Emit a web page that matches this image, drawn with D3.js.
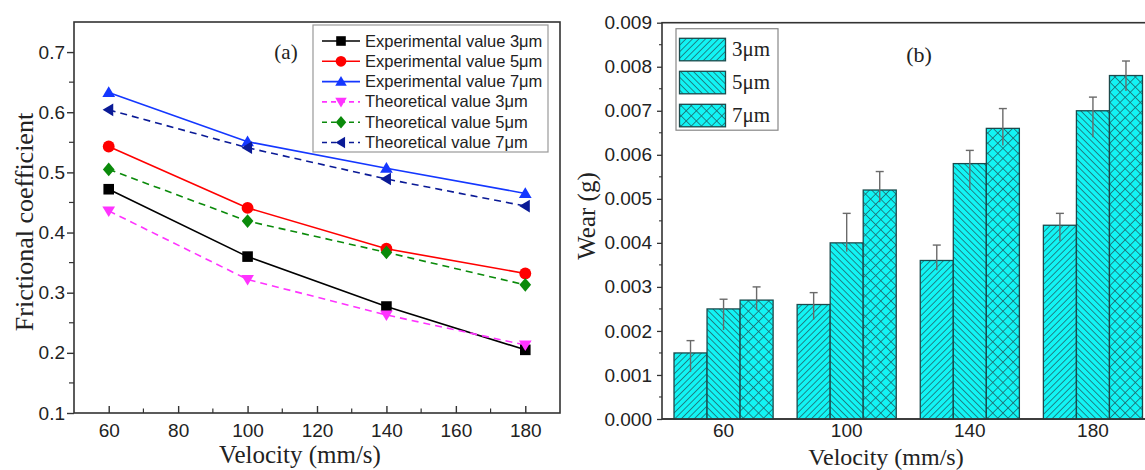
<!DOCTYPE html>
<html>
<head>
<meta charset="utf-8">
<script src="https://cdn.jsdelivr.net/npm/d3@7"></script>
<style>
  html, body { margin: 0; padding: 0; background: #fff; }
  svg { display: block; }
  .tick-label { font-family: "Liberation Sans", Arial, sans-serif; font-size: 19px; fill: #222; }
</style>
</head>
<body>
<svg id="chart" width="1145" height="470"></svg>
<script>
// ---- (a) frictional coefficient vs velocity ----
const velocities = [60, 100, 140, 180];
const expFric3 = [0.472, 0.360, 0.277, 0.205];
const expFric5 = [0.543, 0.441, 0.373, 0.332];
const expFric7 = [0.633, 0.551, 0.507, 0.465];
const theoFric3 = [0.436, 0.322, 0.263, 0.213];
const theoFric5 = [0.505, 0.419, 0.367, 0.313];
const theoFric7 = [0.604, 0.541, 0.489, 0.444];
const fricTicks = [0.1, 0.2, 0.3, 0.4, 0.5, 0.6, 0.7];
const velTicks = [60, 80, 100, 120, 140, 160, 180];

// ---- (b) wear vs velocity ----
const wearCats = ["60", "100", "140", "180"];
const wear3 = [0.0015, 0.0026, 0.0036, 0.0044];
const wear5 = [0.0025, 0.0040, 0.0058, 0.0070];
const wear7 = [0.0027, 0.0052, 0.0066, 0.0078];
const wearErrUp3 = [0.00028, 0.00027, 0.00035, 0.00027];
const wearErrDown3 = [0.00043, 0.00034, 0.00022, 0.00036];
const wearErrUp5 = [0.00022, 0.00067, 0.00030, 0.00031];
const wearErrDown5 = [0.00048, 0.00020, 0.00060, 0.00060];
const wearErrUp7 = [0.00030, 0.00042, 0.00045, 0.00033];
const wearErrDown7 = [0.00023, 0.00028, 0.00039, 0.00035];
const wearTicks = [0, 0.001, 0.002, 0.003, 0.004, 0.005, 0.006, 0.007, 0.008, 0.009];
const sizeLabels = ["3μm", "5μm", "7μm"];

const svg = d3.select("#chart");
const axisColor = "#333";
const serifFamily = "Liberation Serif, Times New Roman, serif";

// =========================== Panel (a) ===========================
const A = { left: 74, right: 560, top: 22, bottom: 413 };
const xA = d3.scaleLinear().domain([50, 190]).range([A.left, A.right]);
const yA = d3.scaleLinear().domain([0.1, 0.75]).range([A.bottom, A.top]);
const gA = svg.append("g");

// frame
gA.append("rect").attr("x", A.left).attr("y", A.top)
  .attr("width", A.right - A.left).attr("height", A.bottom - A.top)
  .attr("fill", "none").attr("stroke", axisColor).attr("stroke-width", 1.6);

// y axis (ticks outward)
const yAxisA = d3.axisLeft(yA).tickValues(fricTicks).tickFormat(d3.format(".1f"))
  .tickSize(7).tickPadding(2);
const yAxG = gA.append("g").attr("transform", `translate(${A.left},0)`).call(yAxisA);
yAxG.select(".domain").remove();
yAxG.selectAll("line").attr("stroke", axisColor).attr("stroke-width", 1.4);
yAxG.selectAll("text").attr("class", "tick-label").attr("font-size", null).attr("font-family", null);
const yMinorA = d3.range(0.15, 0.75, 0.1);
gA.append("g").selectAll("line").data(yMinorA).join("line")
  .attr("x1", A.left - 5).attr("x2", A.left)
  .attr("y1", d => yA(d)).attr("y2", d => yA(d))
  .attr("stroke", axisColor).attr("stroke-width", 1.2);

// x axis (ticks inward)
const xAxisA = d3.axisBottom(xA).tickValues(velTicks).tickSize(-7).tickPadding(11);
const xAxG = gA.append("g").attr("transform", `translate(0,${A.bottom})`).call(xAxisA);
xAxG.select(".domain").remove();
xAxG.selectAll("line").attr("stroke", axisColor).attr("stroke-width", 1.4);
xAxG.selectAll("text").attr("class", "tick-label").attr("font-size", null).attr("font-family", null);
const xMinorA = d3.range(70, 190, 20);
gA.append("g").selectAll("line").data(xMinorA).join("line")
  .attr("x1", d => xA(d)).attr("x2", d => xA(d))
  .attr("y1", A.bottom - 4.5).attr("y2", A.bottom)
  .attr("stroke", axisColor).attr("stroke-width", 1.2);

// axis titles
gA.append("text").attr("font-family", serifFamily).attr("fill", "#222")
  .attr("x", 300).attr("y", 463).attr("text-anchor", "middle")
  .attr("font-size", 25).text("Velocity (mm/s)");
gA.append("text").attr("font-family", serifFamily).attr("fill", "#222")
  .attr("transform", `translate(33,${222}) rotate(-90)`)
  .attr("text-anchor", "middle").attr("font-size", 26).text("Frictional coefficient");
gA.append("text").attr("font-family", serifFamily).attr("fill", "#222")
  .attr("x", 286).attr("y", 59).attr("text-anchor", "middle")
  .attr("font-size", 21).text("(a)");

const fricSeries = [
  { name: "Experimental value 3μm", values: expFric3, color: "#000000", dash: null, shape: "square" },
  { name: "Experimental value 5μm", values: expFric5, color: "#ff0000", dash: null, shape: "circle" },
  { name: "Experimental value 7μm", values: expFric7, color: "#1437ff", dash: null, shape: "triUp" },
  { name: "Theoretical value 3μm", values: theoFric3, color: "#ff33ff", dash: "7,5", shape: "triDown" },
  { name: "Theoretical value 5μm", values: theoFric5, color: "#0a8a0a", dash: "7,5", shape: "diamond" },
  { name: "Theoretical value 7μm", values: theoFric7, color: "#0a1a96", dash: "7,5", shape: "triLeft" }
];

function markerPath(shape, s) {
  switch (shape) {
    case "square": return `M${-s},${-s}H${s}V${s}H${-s}Z`;
    case "circle": return d3.symbol(d3.symbolCircle, Math.PI * s * s * 1.25)();
    case "triUp": return `M0,${-s * 1.15}L${s * 1.2},${s * 0.85}L${-s * 1.2},${s * 0.85}Z`;
    case "triDown": return `M0,${s * 1.15}L${s * 1.2},${-s * 0.85}L${-s * 1.2},${-s * 0.85}Z`;
    case "triLeft": return `M${-s * 1.15},0L${s * 0.85},${-s * 1.2}L${s * 0.85},${s * 1.2}Z`;
    case "diamond": return `M0,${-s * 1.3}L${s * 1.1},0L0,${s * 1.3}L${-s * 1.1},0Z`;
  }
}

const line = d3.line().x((d, i) => xA(velocities[i])).y(d => yA(d));
fricSeries.forEach(s => {
  gA.append("path").datum(s.values).attr("d", line)
    .attr("fill", "none").attr("stroke", s.color).attr("stroke-width", 1.6)
    .attr("stroke-dasharray", s.dash);
});
fricSeries.forEach(s => {
  gA.append("g").selectAll("path").data(s.values).join("path")
    .attr("transform", (d, i) => `translate(${xA(velocities[i])},${yA(d)})`)
    .attr("d", markerPath(s.shape, 5.3))
    .attr("fill", s.color);
});

// legend (a)
const legA = gA.append("g").attr("transform", "translate(313,25)");
legA.append("rect").attr("width", 235).attr("height", 127)
  .attr("fill", "#fff").attr("stroke", "#999").attr("stroke-width", 1.2);
fricSeries.forEach((s, i) => {
  const cy = 16 + i * 20.3;
  const row = legA.append("g").attr("transform", `translate(0,${cy})`);
  row.append("line").attr("x1", 9).attr("x2", 47).attr("y1", 0).attr("y2", 0)
    .attr("stroke", s.color).attr("stroke-width", 1.6)
    .attr("stroke-dasharray", s.dash ? "5,4" : null);
  row.append("path").attr("transform", "translate(28,0)")
    .attr("d", markerPath(s.shape, 4.8)).attr("fill", s.color);
  row.append("text").attr("x", 52).attr("y", 5.5)
    .attr("font-family", "Liberation Sans, Arial, sans-serif").attr("font-size", 16.5)
    .attr("fill", "#222").text(s.name);
});

// =========================== Panel (b) ===========================
const B = { left: 662, right: 1154.5, top: 22.7, bottom: 419 };
const xB = d3.scaleBand().domain(wearCats).range([B.left, B.right])
  .paddingInner(0.195).paddingOuter(0.0975);
const xSub = d3.scaleBand().domain(sizeLabels).range([0, xB.bandwidth()]);
const yB = d3.scaleLinear().domain([0, 0.009]).range([B.bottom, B.top]);
const gB = svg.append("g");

// hatch patterns
const defs = svg.append("defs");
const hatchStroke = "#1d6b70";
const barFill = "#12f4f4";
function hatch(id, angles, gap) {
  const p = defs.append("pattern").attr("id", id).attr("patternUnits", "userSpaceOnUse")
    .attr("width", gap).attr("height", gap)
    .attr("patternTransform", `rotate(${angles[0]})`);
  p.append("rect").attr("width", gap).attr("height", gap).attr("fill", barFill);
  p.append("line").attr("x1", 0).attr("x2", 0).attr("y1", 0).attr("y2", gap)
    .attr("stroke", hatchStroke).attr("stroke-width", 1.6);
  if (angles.length > 1) {
    p.append("line").attr("x1", 0).attr("x2", gap).attr("y1", 0).attr("y2", 0)
      .attr("stroke", hatchStroke).attr("stroke-width", 1.6);
  }
}
hatch("h3", [45], 4.6);
hatch("h5", [-45], 4.6);
hatch("h7", [45, -45], 7.2);
const patternIds = ["h3", "h5", "h7"];

// frame (right side lies beyond the page edge)
gB.append("rect").attr("x", B.left).attr("y", B.top)
  .attr("width", B.right - B.left).attr("height", B.bottom - B.top)
  .attr("fill", "none").attr("stroke", axisColor).attr("stroke-width", 1.6);

// y axis
const yAxisB = d3.axisLeft(yB).tickValues(wearTicks).tickFormat(d3.format(".3f"))
  .tickSize(5).tickPadding(5);
const yBxG = gB.append("g").attr("transform", `translate(${B.left},0)`).call(yAxisB);
yBxG.select(".domain").remove();
yBxG.selectAll("line").attr("stroke", axisColor).attr("stroke-width", 1.3);
yBxG.selectAll("text").attr("class", "tick-label").attr("font-size", null).attr("font-family", null);
const yMinorB = d3.range(0.0005, 0.009, 0.001);
gB.append("g").selectAll("line").data(yMinorB).join("line")
  .attr("x1", B.left - 3).attr("x2", B.left)
  .attr("y1", d => yB(d)).attr("y2", d => yB(d))
  .attr("stroke", axisColor).attr("stroke-width", 1.1);

// x axis labels
const xAxisB = d3.axisBottom(xB).tickSize(0).tickPadding(5);
const xBxG = gB.append("g").attr("transform", `translate(0,${B.bottom})`).call(xAxisB);
xBxG.select(".domain").remove();
xBxG.selectAll("text").attr("class", "tick-label").attr("font-size", null).attr("font-family", null);

// bars
const wearSeries = [
  { values: wear3, up: wearErrUp3, down: wearErrDown3 },
  { values: wear5, up: wearErrUp5, down: wearErrDown5 },
  { values: wear7, up: wearErrUp7, down: wearErrDown7 }
];
wearSeries.forEach((s, k) => {
  const grp = gB.append("g");
  grp.selectAll("rect").data(s.values).join("rect")
    .attr("x", (d, i) => xB(wearCats[i]) + xSub(sizeLabels[k]))
    .attr("y", d => yB(d))
    .attr("width", xSub.bandwidth())
    .attr("height", d => B.bottom - yB(d))
    .attr("fill", `url(#${patternIds[k]})`)
    .attr("stroke", "#1b4a4c").attr("stroke-width", 1.3);
});
// error bars
wearSeries.forEach((s, k) => {
  const grp = gB.append("g").attr("stroke", "#6a6a6a").attr("stroke-width", 1.4);
  s.values.forEach((v, i) => {
    const cx = xB(wearCats[i]) + xSub(sizeLabels[k]) + xSub.bandwidth() / 2;
    grp.append("line").attr("x1", cx).attr("x2", cx)
      .attr("y1", yB(v + s.up[i])).attr("y2", yB(v - s.down[i]));
    grp.append("line").attr("x1", cx - 4).attr("x2", cx + 4)
      .attr("y1", yB(v + s.up[i])).attr("y2", yB(v + s.up[i]));
  });
});
// bottom axis line drawn over the bars
gB.append("line").attr("x1", B.left).attr("x2", B.right)
  .attr("y1", B.bottom).attr("y2", B.bottom)
  .attr("stroke", axisColor).attr("stroke-width", 1.6);

// titles
gB.append("text").attr("font-family", serifFamily).attr("fill", "#222")
  .attr("x", 886).attr("y", 465).attr("text-anchor", "middle")
  .attr("font-size", 24).text("Velocity (mm/s)");
gB.append("text").attr("font-family", serifFamily).attr("fill", "#222")
  .attr("transform", `translate(595,${216}) rotate(-90)`)
  .attr("text-anchor", "middle").attr("font-size", 25).text("Wear (g)");
gB.append("text").attr("font-family", serifFamily).attr("fill", "#222")
  .attr("x", 919).attr("y", 62).attr("text-anchor", "middle")
  .attr("font-size", 22).text("(b)");

// legend (b)
const legB = gB.append("g").attr("transform", "translate(676,28.7)");
legB.append("rect").attr("width", 102).attr("height", 101.5)
  .attr("fill", "#fff").attr("stroke", "#888").attr("stroke-width", 1.2);
sizeLabels.forEach((lab, k) => {
  const top = 9.6 + k * 33;
  legB.append("rect").attr("x", 3.5).attr("y", top).attr("width", 46).attr("height", 22.5)
    .attr("fill", `url(#${patternIds[k]})`).attr("stroke", "#1b4a4c").attr("stroke-width", 1.3);
  legB.append("text").attr("font-family", serifFamily).attr("fill", "#222")
    .attr("x", 56).attr("y", top + 18).attr("font-size", 21).text(lab);
});
</script>
</body>
</html>
